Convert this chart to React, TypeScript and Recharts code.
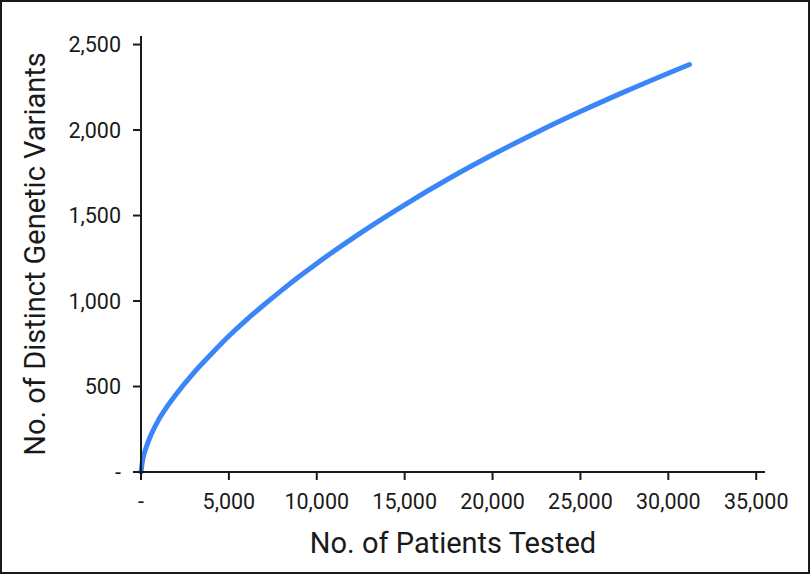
import { LineChart, Line, XAxis, YAxis } from 'recharts';

// (patients tested -> distinct variants)
const patients = [0, 100, 250, 500, 1000, 1500, 2000, 3000, 4000, 5000, 6000, 7000, 8000, 9000, 10000, 12500, 15000, 17500, 20000, 22500, 25000, 27500, 30000, 31200];
const variants = [0, 75, 130, 200, 305, 385, 455, 580, 690, 795, 890, 978, 1062, 1143, 1220, 1399, 1563, 1715, 1855, 1986, 2108, 2223, 2332, 2383];

const xTicks = [0, 5000, 10000, 15000, 20000, 25000, 30000, 35000];
const yTicks = [0, 500, 1000, 1500, 2000, 2500];

const data = patients.map((p, i) => ({ patients: p, variants: variants[i] }));

const fmt = (v: number) => (v === 0 ? '-' : v.toLocaleString('en-US'));

const FONT = 'Roboto, "Liberation Sans", Arial, sans-serif';
const INK = '#1a1a1a';

export default function App() {
  return (
    <div style={{ position: 'fixed', left: 0, top: 0, width: 812, height: 575, background: '#fff' }}>
      <div
        style={{
          position: 'absolute',
          left: 0,
          top: 0,
          width: 806,
          height: 570,
          border: `2px solid ${INK}`,
        }}
      />
      <div style={{ position: 'absolute', left: 0, top: 0 }}>
        <LineChart width={812} height={575} data={data} margin={{ top: 36, right: 47, bottom: 0, left: 0 }}>
          <XAxis
            dataKey="patients"
            type="number"
            domain={[0, 35500]}
            ticks={xTicks}
            tickFormatter={fmt}
            height={103}
            tickSize={8}
            tickMargin={14}
            axisLine={{ stroke: INK, strokeWidth: 2 }}
            tickLine={{ stroke: INK, strokeWidth: 2 }}
            tick={{ fill: INK, fontSize: 21.5, fontFamily: FONT }}
            label={{
              value: 'No. of Patients Tested',
              position: 'insideBottom',
              offset: 22,
              style: { fill: INK, fontSize: 29, fontFamily: FONT },
            }}
          />
          <YAxis
            dataKey="variants"
            type="number"
            domain={[0, 2550]}
            ticks={yTicks}
            tickFormatter={fmt}
            width={141}
            tickSize={8}
            tickMargin={12}
            axisLine={{ stroke: INK, strokeWidth: 2 }}
            tickLine={{ stroke: INK, strokeWidth: 2 }}
            tick={{ fill: INK, fontSize: 21.5, fontFamily: FONT }}
            label={{
              value: 'No. of Distinct Genetic Variants',
              angle: -90,
              position: 'insideLeft',
              offset: 35,
              style: { textAnchor: 'middle', fill: INK, fontSize: 29, fontFamily: FONT },
            }}
          />
          <Line
            type="monotone"
            dataKey="variants"
            stroke="#3a86f8"
            strokeWidth={5}
            strokeLinecap="round"
            dot={false}
            activeDot={false}
            isAnimationActive={false}
          />
        </LineChart>
      </div>
    </div>
  );
}
